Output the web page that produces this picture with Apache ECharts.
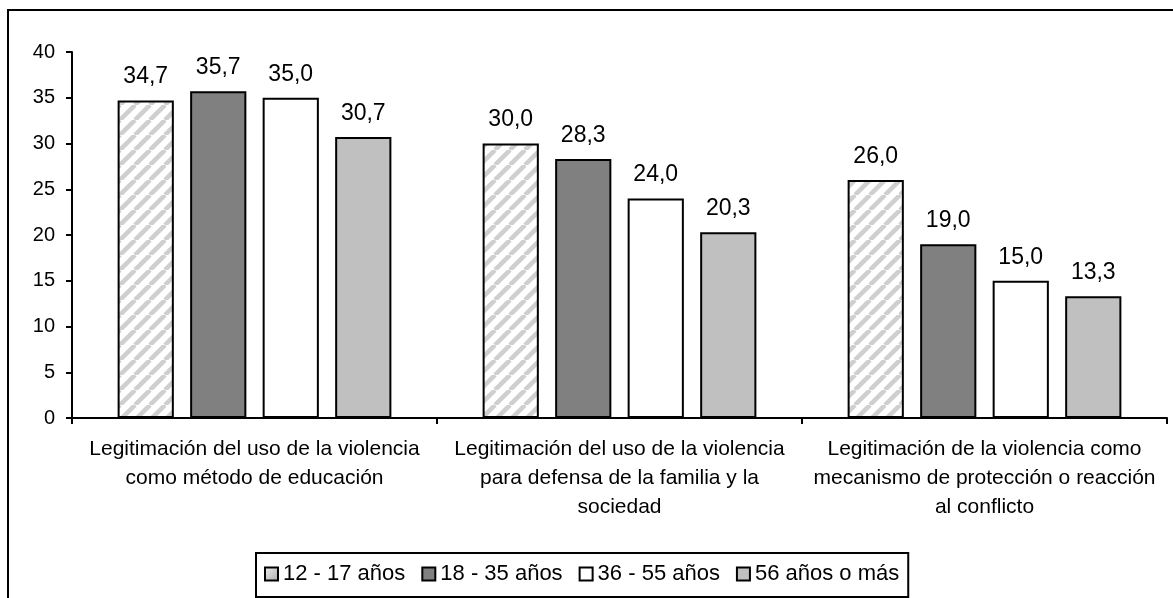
<!DOCTYPE html>
<html>
<head>
<meta charset="utf-8">
<script src="https://cdn.jsdelivr.net/npm/echarts@6/dist/echarts.min.js"></script>
<style>
  html, body { margin: 0; padding: 0; background: #fff; }
  #chart { width: 1173px; height: 598px; }
</style>
</head>
<body>
<div id="chart"></div>
<script>
// categorias y grupos de edad
var categories = [
    'Legitimación del uso de la violencia\ncomo método de educación',
    'Legitimación del uso de la violencia\npara defensa de la familia y la\nsociedad',
    'Legitimación de la violencia como\nmecanismo de protección o reacción\nal conflicto'
];
var groups = ['12 - 17 años', '18 - 35 años', '36 - 55 años', '56 años o más'];
var age12_17 = [34.7, 30.0, 26.0];
var age18_35 = [35.7, 28.3, 19.0];
var age36_55 = [35.0, 24.0, 15.0];
var age56 = [30.7, 20.3, 13.3];
var yTicks = [0, 5, 10, 15, 20, 25, 30, 35, 40];

// rayado diagonal para el primer grupo
function stripes() {
    var n = 15;
    var c = document.createElement('canvas');
    c.width = n;
    c.height = n;
    var ctx = c.getContext('2d');
    ctx.fillStyle = '#fff';
    ctx.fillRect(0, 0, n, n);
    ctx.strokeStyle = '#cfcfcf';
    ctx.lineWidth = 4.5;
    ctx.beginPath();
    for (var k = -n; k <= n; k += n) {
        ctx.moveTo(k, n);
        ctx.lineTo(k + n, 0);
    }
    ctx.stroke();
    return c;
}

var font = 'Liberation Sans, Arial, sans-serif';
var fills = [
    { image: stripes(), repeat: 'repeat' },
    '#808080',
    '#ffffff',
    '#c0c0c0'
];
var values = [age12_17, age18_35, age36_55, age56];

var chart = echarts.init(document.getElementById('chart'));

var series = groups.map(function (name, i) {
    return {
        name: name,
        type: 'bar',
        data: values[i],
        barGap: '29%',
        barCategoryGap: '25%',
        itemStyle: { color: fills[i], borderColor: '#000', borderWidth: 2 },
        label: {
            show: true,
            position: 'top',
            distance: 12,
            color: '#000',
            fontFamily: font,
            fontSize: 23,
            formatter: function (p) { return p.value.toFixed(1).replace('.', ','); }
        },
        emphasis: { disabled: true }
    };
});

var legendData = groups.map(function (name, i) {
    if (i === 0) {
        return {
            name: name,
            itemStyle: {
                color: new echarts.graphic.LinearGradient(0, 0, 1, 1, [
                    { offset: 0, color: '#f2f2f2' },
                    { offset: 1, color: '#a8a8a8' }
                ])
            }
        };
    }
    return { name: name };
});

chart.setOption({
    animation: false,
    backgroundColor: '#fff',
    textStyle: { fontFamily: font },
    graphic: [{
        type: 'rect',
        shape: { x: 8, y: 10, width: 1400, height: 800 },
        style: { fill: 'none', stroke: '#000', lineWidth: 2 },
        silent: true,
        z: -1
    }],
    grid: { left: 72, right: 6, top: 52, bottom: 180 },
    legend: {
        data: legendData,
        left: 256,
        top: 553,
        icon: 'rect',
        itemWidth: 13,
        itemHeight: 13,
        itemGap: 16,
        padding: [10, 9, 12, 8],
        borderColor: '#000',
        borderWidth: 2,
        backgroundColor: '#fff',
        textStyle: { fontFamily: font, fontSize: 22, color: '#000' }
    },
    xAxis: {
        type: 'category',
        data: categories,
        axisLine: { lineStyle: { color: '#000', width: 2 } },
        axisTick: { show: true, length: 6, lineStyle: { color: '#000', width: 2 } },
        axisLabel: {
            color: '#000',
            fontFamily: font,
            fontSize: 21,
            lineHeight: 29,
            margin: 17,
            interval: 0
        }
    },
    yAxis: {
        type: 'value',
        min: yTicks[0],
        max: yTicks[yTicks.length - 1],
        interval: 5,
        splitLine: { show: false },
        axisLine: { show: true, lineStyle: { color: '#000', width: 2 } },
        axisTick: { show: true, length: 6, lineStyle: { color: '#000', width: 2 } },
        axisLabel: { color: '#000', fontFamily: font, fontSize: 20, margin: 17 }
    },
    series: series
});
</script>
</body>
</html>
